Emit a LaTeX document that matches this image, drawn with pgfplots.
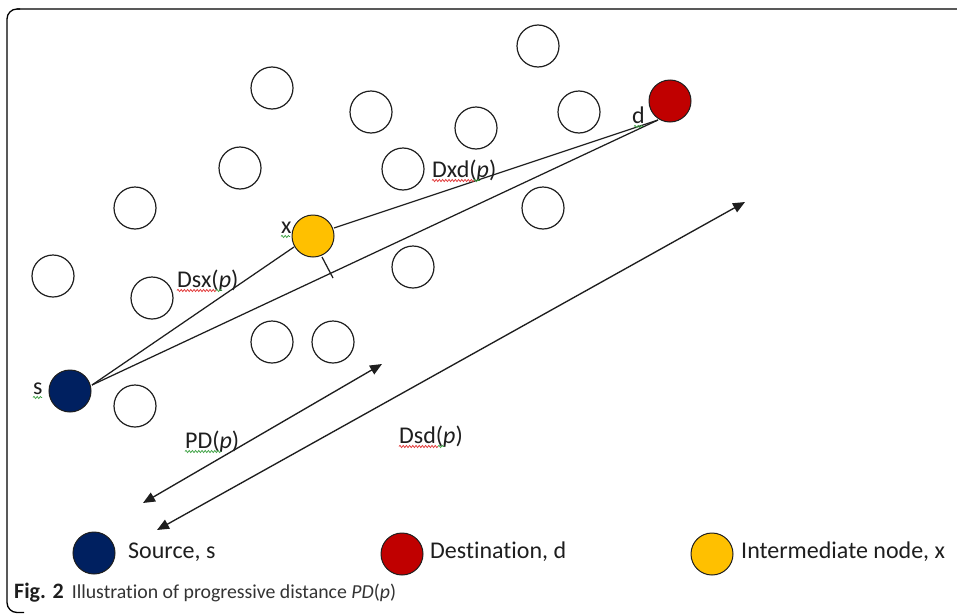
\documentclass[border=0pt]{standalone}
\usepackage{pgfplots}
\pgfplotsset{compat=1.18}
\usepackage{fontspec}
\setmainfont[Ligatures={NoCommon,NoContextual}]{Carlito}
\usetikzlibrary{arrows.meta,decorations.pathmorphing}
\definecolor{srcblue}{HTML}{002060}
\definecolor{dstred}{HTML}{C00000}
\definecolor{intgold}{HTML}{FFC000}
\definecolor{sqred}{HTML}{E03030}
\definecolor{sqgreen}{HTML}{3AA040}
\definecolor{ink}{HTML}{1E1E1E}
\newcommand{\lblfont}{\fontsize{24}{28}\selectfont}
\newcommand{\capfont}{\fontsize{19.8}{23}\selectfont}
% squiggle under a label: colour, node, start offset, end offset
\newcommand{\squig}[4]{\draw[#1, line width=0.7pt, decorate, decoration={snake, amplitude=1.1pt, segment length=3.2pt}] ([xshift=#3pt, yshift=-3.5pt]#2.base west) -- ([xshift=#4pt, yshift=-3.5pt]#2.base west);}
\begin{document}
\begin{tikzpicture}
\begin{axis}[scale only axis, width=957pt, height=613pt,
  xmin=0, xmax=957, ymin=0, ymax=613, y dir=reverse,
  hide axis, clip=false]
% frame
\draw[black!65, line width=1.8pt] (axis cs:957,9) -- (axis cs:17,9);
\draw[black, line width=1.3pt, rounded corners=10pt] (axis cs:20,9) -- (axis cs:7,9) -- (axis cs:7,612.5) -- (axis cs:24,612.5);
% empty nodes
\addplot[only marks, mark=*, mark size=21, mark options={draw=ink, fill=white, line width=1.2pt}] coordinates {
 (538,46) (272,88) (371,112) (579,112) (476,128) (240,168) (403,169)
 (135,208) (543,208) (53,276) (413,267) (152,298) (272,342) (333,342) (135,406)};
% links
\addplot[ink, line width=1.25pt, no marks] coordinates {(92,385) (294,247)};
\addplot[ink, line width=1.25pt, no marks] coordinates {(92,385) (658,120)};
\addplot[ink, line width=1.25pt, no marks] coordinates {(334,228) (658,120)};
\addplot[ink, line width=1.25pt, no marks] coordinates {(322,257) (333,278)};
% distance arrows
\addplot[ink, line width=1.35pt, no marks, {Triangle[width=10pt,length=12pt]}-{Triangle[width=10pt,length=12pt]}] coordinates {(143,503) (382,364)};
\addplot[ink, line width=1.35pt, no marks, {Triangle[width=10pt,length=12pt]}-{Triangle[width=10pt,length=12pt]}] coordinates {(157,530) (745,202)};
% coloured nodes
\addplot[only marks, mark=*, mark size=21, mark options={draw=ink, fill=srcblue, line width=1pt}] coordinates {(70,391)};
\addplot[only marks, mark=*, mark size=21, mark options={draw=ink, fill=intgold, line width=1pt}] coordinates {(313,236)};
\addplot[only marks, mark=*, mark size=21, mark options={draw=ink, fill=dstred, line width=1pt}] coordinates {(670,101)};
% legend markers
\addplot[only marks, mark=*, mark size=21, mark options={draw=ink, fill=srcblue, line width=1pt}] coordinates {(94,553)};
\addplot[only marks, mark=*, mark size=21, mark options={draw=ink, fill=dstred, line width=1pt}] coordinates {(402,554)};
\addplot[only marks, mark=*, mark size=21, mark options={draw=ink, fill=intgold, line width=1pt}] coordinates {(712,554)};
% labels
\node[anchor=base west, inner sep=0pt, font=\lblfont, text=ink] (ls) at (axis cs:33,394) {s};
\node[anchor=base west, inner sep=0pt, font=\lblfont, text=ink] (lx) at (axis cs:281,233) {x};
\node[anchor=base west, inner sep=0pt, font=\lblfont, text=ink] (ld) at (axis cs:632,123) {d};
\node[anchor=base west, inner sep=0pt, font=\lblfont, text=ink] (ldsx) at (axis cs:177,287) {Dsx(\textit{p})};
\node[anchor=base west, inner sep=0pt, font=\lblfont, text=ink] (ldxd) at (axis cs:432,177) {Dxd(\textit{p})};
\node[anchor=base west, inner sep=0pt, font=\lblfont, text=ink] (lpd) at (axis cs:185,448) {PD(\textit{p})};
\node[anchor=base west, inner sep=0pt, font=\lblfont, text=ink] (ldsd) at (axis cs:399,443) {Dsd(\textit{p})};
\squig{sqgreen}{ls}{0}{9}
\squig{sqgreen}{lx}{0}{9}
\squig{sqgreen}{ld}{2}{11}
\squig{sqred}{ldsx}{0}{39}
\squig{sqgreen}{ldsx}{39}{45}
\squig{sqred}{ldxd}{0}{42}
\squig{sqgreen}{ldxd}{42}{48}
\squig{sqgreen}{lpd}{0}{36}
\squig{sqred}{ldsd}{0}{39}
\squig{sqgreen}{ldsd}{39}{45}
% legend text
\node[anchor=base west, inner sep=0pt, font=\lblfont, text=ink] at (axis cs:128,558) {Source, s};
\node[anchor=base west, inner sep=0pt, font=\lblfont, text=ink] at (axis cs:430,558) {Destination, d};
\node[anchor=base west, inner sep=0pt, font=\lblfont, text=ink] at (axis cs:741,558) {Intermediate node, x};
% caption
\node[anchor=base west, inner sep=0pt, text=ink] at (axis cs:14,598) {{\fontsize{22}{24}\selectfont\bfseries Fig. 2}\hspace{8pt}{\capfont\color{black!80}Illustration of progressive distance \textit{PD}(\textit{p})}};
\end{axis}
\pgfresetboundingbox
\path[use as bounding box] (current axis.south west) rectangle (current axis.north east);
\end{tikzpicture}
\end{document}
